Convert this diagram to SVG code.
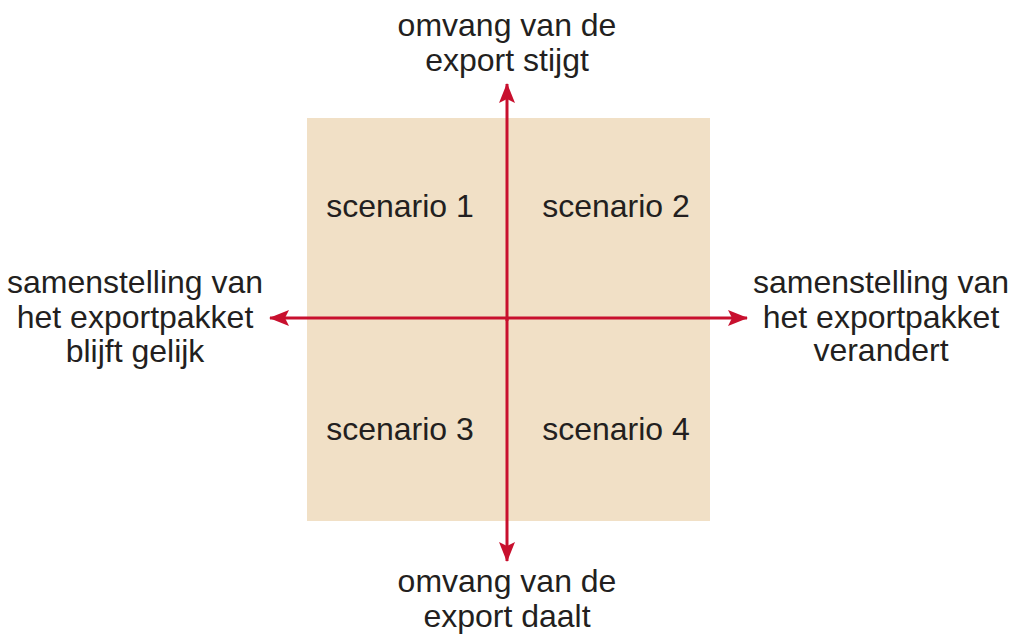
<svg xmlns="http://www.w3.org/2000/svg" width="1014" height="635" viewBox="0 0 1014 635">
<defs>
<style>
text{font-family:"Liberation Sans",Arial,sans-serif;font-size:32px;fill:#231f20;text-anchor:middle}
.ax{stroke:#c8102e;stroke-width:3;fill:none}
</style>
<marker id="ah" viewBox="0 0 20 16" refX="19" refY="8" markerWidth="20" markerHeight="16" markerUnits="userSpaceOnUse" orient="auto">
<path d="M0,0 L20,8 L0,16 L4,8 Z" fill="#c8102e"/>
</marker>
</defs>
<rect width="1014" height="635" fill="#ffffff"/>
<g id="quadrant">
<rect x="307" y="118" width="403" height="403" fill="#f1e0c6"/>
</g>
<g id="connectors">
<line class="ax" x1="507" y1="321" x2="507" y2="84" marker-end="url(#ah)"/>
<line class="ax" x1="507" y1="318" x2="507" y2="561" marker-end="url(#ah)"/>
<line class="ax" x1="507" y1="318" x2="270" y2="318" marker-end="url(#ah)"/>
<line class="ax" x1="507" y1="318" x2="747" y2="318" marker-end="url(#ah)"/>
</g>
<g id="top-label"><text x="507" y="36">omvang van de</text><text x="507" y="71">export stijgt</text></g>
<g id="bottom-label"><text x="507" y="592">omvang van de</text><text x="507" y="627">export daalt</text></g>
<g id="left-label"><text x="135" y="293">samenstelling van</text><text x="135" y="328">het exportpakket</text><text x="135" y="362">blijft gelijk</text></g>
<g id="right-label"><text x="881" y="293">samenstelling van</text><text x="881" y="328">het exportpakket</text><text x="881" y="361">verandert</text></g>
<g id="scenario1"><text x="400" y="217">scenario 1</text></g>
<g id="scenario2"><text x="616" y="217">scenario 2</text></g>
<g id="scenario3"><text x="400" y="440">scenario 3</text></g>
<g id="scenario4"><text x="616" y="440">scenario 4</text></g>
</svg>
